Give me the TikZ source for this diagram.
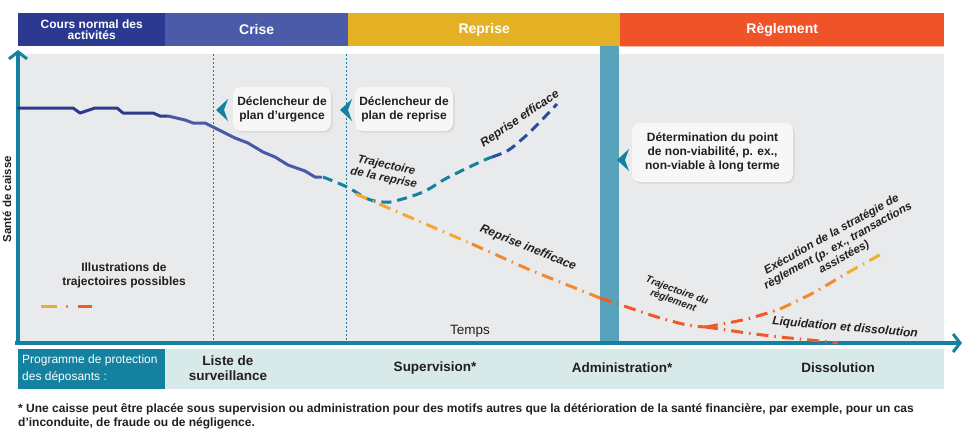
\documentclass[tikz,border=0pt]{standalone}
\usepackage{fontspec}
\setmainfont{Liberation Sans}
\usetikzlibrary{arrows.meta,shadows}
\definecolor{hdrA}{HTML}{2B3990}
\definecolor{hdrB}{HTML}{4B5BA9}
\definecolor{hdrC}{HTML}{E3B123}
\definecolor{hdrD}{HTML}{F05327}
\definecolor{panel}{HTML}{E9EAEC}
\definecolor{tealc}{HTML}{13819F}
\definecolor{bandc}{HTML}{57A3BB}
\definecolor{lightb}{HTML}{D7E9E8}
\definecolor{txt}{HTML}{231F20}
\definecolor{blueA}{HTML}{2E3A8E}
\definecolor{blueB}{HTML}{4A58A8}
\definecolor{blueC}{HTML}{2A4FA0}
\definecolor{orA}{HTML}{F2A92E}
\definecolor{orB}{HTML}{F2892E}
\definecolor{orC}{HTML}{F05A28}
\definecolor{orD}{HTML}{F28A2C}
\definecolor{orE}{HTML}{EFB02A}
\begin{document}
\begin{tikzpicture}[x=1pt,y=-1pt,
  hdr/.style={anchor=north west,inner sep=0pt,minimum height=33pt,text=white,align=center,font=\bfseries\fontsize{14}{14}\selectfont},
  callout/.style={fill=white!97!black,rounded corners=8pt,align=center,inner sep=0pt,text=txt,font=\bfseries\fontsize{12}{14}\selectfont,
     drop shadow={opacity=0.18,shadow xshift=1.5pt,shadow yshift=-1.5pt}},
  pointer/.style={fill=tealc},
  solidtraj/.style={line width=3pt,line join=round,line cap=round},
  dashtraj/.style={line width=3pt,dash pattern=on 10pt off 6pt},
  dotdash/.style={line width=3pt,dash pattern=on 12pt off 6pt on 1.5pt off 6pt},
  lbl/.style={text=txt,font=\bfseries\itshape\fontsize{12}{12}\selectfont,align=center,inner sep=0pt},
  vdot/.style={tealc,line width=0.9pt,dash pattern=on 2pt off 2pt},
  blabel/.style={text=txt,font=\bfseries\fontsize{13.5}{15}\selectfont,align=center,inner sep=0pt}
]
\useasboundingbox (0,0) rectangle (965,445);
% header
\node[hdr,fill=hdrA,minimum width=147pt,font=\bfseries\fontsize{12}{11}\selectfont] (h1) at (18,13) {Cours normal des\\activités};
\node[hdr,fill=hdrB,minimum width=183pt] (h2) at (165,13) {Crise};
\node[hdr,fill=hdrC,minimum width=272pt] (h3) at (348,13) {Reprise};
\node[hdr,fill=hdrD,minimum width=324pt] (h4) at (620,13) {Règlement};
\fill[hdrD!40] (620,45.5) rectangle (944,47);
% panel
\fill[panel] (18,54) rectangle (944,341);
% band
\fill[bandc] (600,46) rectangle (619,341);
% dotted lines
\draw[vdot] (213,54) -- (213,341);
\draw[vdot] (346,54) -- (346,341);
% axes
\coordinate (ybot) at (18,343);
\coordinate (ytop) at (18,50);
\coordinate (xl) at (15,343);
\coordinate (xr) at (962,343);
\draw[tealc,line width=3.5pt,-{Straight Barb[length=7pt,width=18pt,line width=3pt]}] (ybot) -- (ytop);
\draw[tealc,line width=3.5pt,-{Straight Barb[length=7pt,width=18pt,line width=3pt]}] (xl) -- (xr);
% axis labels
\node[text=txt,rotate=90,font=\bfseries\fontsize{11.5}{12}\selectfont,inner sep=0pt] (ylab) at (7,199) {Santé de caisse};
\node[text=txt,font=\fontsize{13.5}{14}\selectfont,inner sep=0pt] (tlab) at (470,331) {Temps};
\node[text=txt,font=\bfseries\fontsize{12}{14}\selectfont,align=center,inner sep=0pt] (illus) at (124,275) {Illustrations de\\trajectoires possibles};
% legend
\coordinate (lg1) at (41,306); \coordinate (lg2) at (57,306);
\coordinate (lg3) at (66,306); \coordinate (lg4) at (68,306);
\coordinate (lg5) at (78,306); \coordinate (lg6) at (92,306);
\draw[orA,line width=3pt] (lg1) -- (lg2);
\draw[orB,line width=3pt] (lg3) -- (lg4);
\draw[orC,line width=3pt] (lg5) -- (lg6);
% solid blue trajectory
\draw[solidtraj,blueA] (18,108) -- (73,108) -- (80,113) -- (95,108) -- (117,108) -- (123,113) -- (153,113) -- (160,116) -- (168,116);
\draw[solidtraj,blueB] (168,116) -- (185,120) -- (193,123) -- (205,123) -- (213,127) -- (235,138) -- (248,143) -- (263,152) -- (275,157) -- (288,165) -- (305,171) -- (315,177) -- (321,177);
% dashed recovery
\draw[dashtraj,tealc] plot[smooth,tension=0.6] coordinates {(323,177) (347,187) (368,199) (383,202) (395,201) (423,192) (447,178) (480,162) (492,157)};
\draw[dashtraj,blueC] plot[smooth,tension=0.6] coordinates {(492,157) (507,151) (520,141) (535,127) (557,104)};
% inefficace
\draw[dotdash,orA] (356,194) -- (472,244);
\draw[dotdash,orB] (472,244) -- (530,270) -- (600,298);
\draw[dotdash,orC] plot[smooth,tension=0.5] coordinates {(600,298) (630,308) (657,317) (687,325) (706,327)};
% liquidation
\draw[dotdash,orC] plot[smooth,tension=0.5] coordinates {(706,327) (747,333) (780,337) (810,340) (838,343)};
% execution
\draw[dotdash,orC] plot[smooth,tension=0.5] coordinates {(706,327) (747,319) (780,309)};
\draw[dotdash,orD] plot[smooth,tension=0.5] coordinates {(780,309) (813,293) (847,273)};
\draw[dotdash,orE] (847,273) -- (885,252);
% rotated labels
\node[lbl,rotate=-12,font=\bfseries\itshape\fontsize{11.5}{13}\selectfont] (ltr) at (385,172) {Trajectoire\\de la reprise};
\node[lbl,rotate=34] (lre) at (520,119) {Reprise efficace};
\node[lbl,rotate=-22] (lri) at (528,248) {Reprise inefficace};
\node[lbl,rotate=-20,font=\bfseries\itshape\fontsize{10}{11}\selectfont] (ltreg) at (675,296) {Trajectoire du\\règlement};
\node[lbl,rotate=29,font=\bfseries\itshape\fontsize{11.5}{13}\selectfont] (lex) at (838,246) {Exécution de la stratégie de\\règlement (p. ex., transactions\\assistées)};
\node[lbl,rotate=-5] (lliq) at (845,328) {Liquidation et dissolution};
% callouts
\node[callout,minimum width=98pt,minimum height=44pt] (c1) at (282,109) {Déclencheur de\\plan d’urgence};
\node[callout,minimum width=98pt,minimum height=44pt] (c2) at (404,109) {Déclencheur de\\plan de reprise};
\node[callout,minimum width=161pt,minimum height=59pt] (c3) at (712.5,152.5) {Détermination du point\\de non-viabilité, p. ex.,\\non-viable à long terme};
\fill[pointer] (216,110) -- (228,99) -- (224,110) -- (228,121) -- cycle;
\fill[pointer] (340,110) -- (352,99) -- (348,110) -- (352,121) -- cycle;
\fill[pointer] (617,160) -- (629,149) -- (625,160) -- (629,171) -- cycle;
% bottom band
\fill[lightb] (165,349) rectangle (944,389);
\node[anchor=north west,fill=tealc,minimum width=147pt,minimum height=40pt,inner sep=0pt] (pbox) at (18,349) {};
\node[anchor=west,text=white,align=left,inner sep=0pt,font=\fontsize{12}{17}\selectfont] (ptxt) at (22,369) {Programme de protection\\des déposants :};
\node[blabel] (b1) at (228,368) {Liste de\\surveillance};
\node[blabel] (b2) at (435,368) {Supervision*};
\node[blabel] (b3) at (622,368) {Administration*};
\node[blabel] (b4) at (838,368) {Dissolution};
% footnote
\node[anchor=north west,text=txt,align=left,inner sep=0pt,font=\bfseries\fontsize{12}{14}\selectfont] (fn) at (18,403) {* Une caisse peut être placée sous supervision ou administration pour des motifs autres que la détérioration de la santé financière, par exemple, pour un cas\\d’inconduite, de fraude ou de négligence.};
\end{tikzpicture}
\end{document}
